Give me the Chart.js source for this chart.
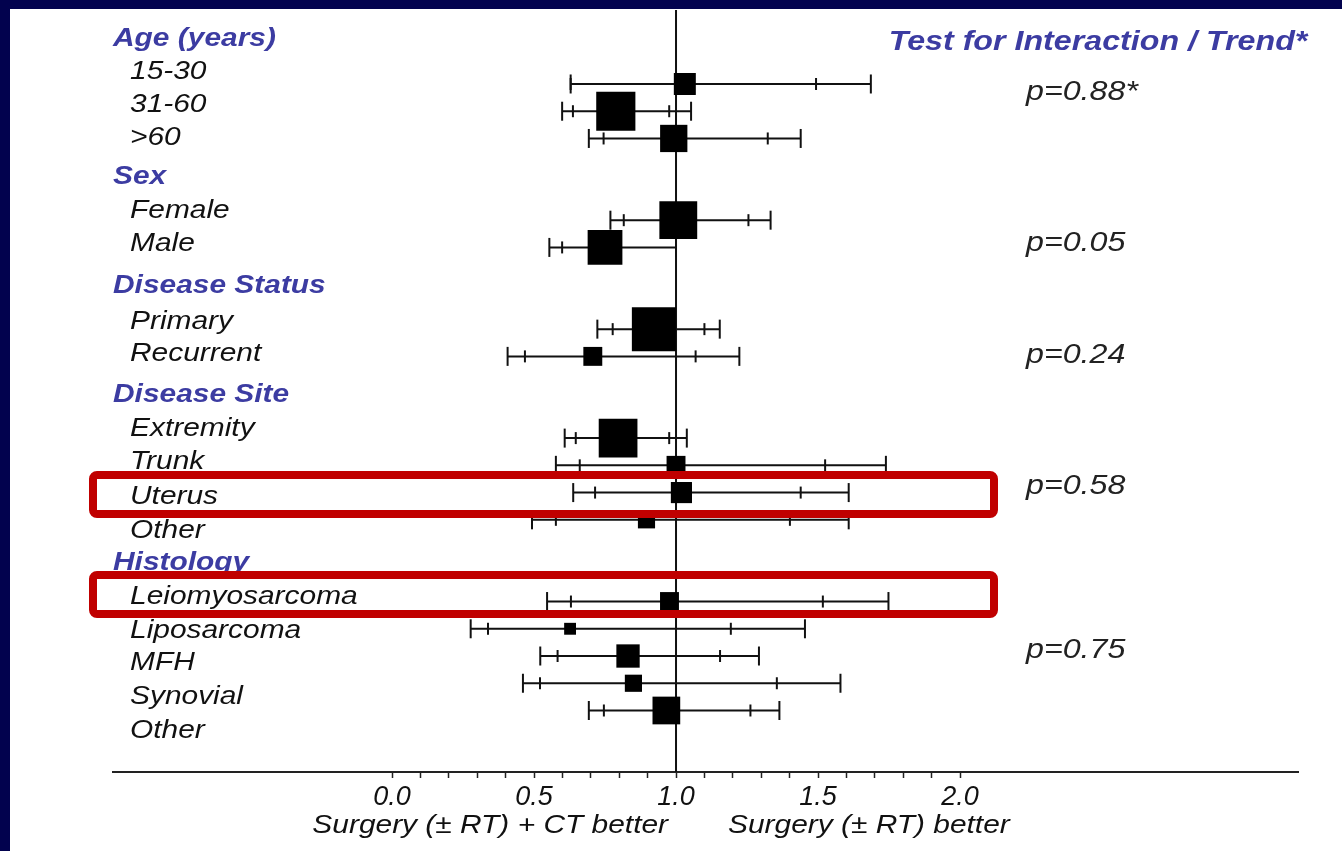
<!DOCTYPE html>
<html>
<head>
<meta charset="utf-8">
<title>Forest plot</title>
<script src="https://cdn.jsdelivr.net/npm/chart.js@4/dist/chart.umd.min.js"></script>
<style>
  html, body { margin: 0; padding: 0; background: #02024e; }
  #wrap { width: 1342px; height: 851px; }
</style>
</head>
<body>
<div id="wrap"><canvas id="forest" width="1342" height="851"></canvas></div>
<script>
const groupNames = ['Age (years)', 'Sex', 'Disease Status', 'Disease Site', 'Histology'];
const groupSizes = [3, 2, 2, 4, 5];
const rowLabels = ['15-30', '31-60', '>60', 'Female', 'Male', 'Primary', 'Recurrent',
    'Extremity', 'Trunk', 'Uterus', 'Other', 'Leiomyosarcoma', 'Liposarcoma', 'MFH', 'Synovial', 'Other'];
const estimate = [1.031, 0.788, 0.992, 1.008, 0.750, 0.922, 0.707, 0.796, 1.000, 1.019, 0.896, 0.977, 0.627, 0.831, 0.850, 0.966];
const lower95 = [0.629, 0.637, 0.745, 0.816, 0.599, 0.777, 0.468, 0.647, 0.661, 0.715, 0.577, 0.630, 0.338, 0.583, 0.521, 0.746];
const upper95 = [1.493, 0.976, 1.323, 1.255, 1.000, 1.100, 1.069, 0.976, 1.525, 1.439, 1.401, 1.517, 1.193, 1.155, 1.355, 1.262];
const lower99 = [0.629, 0.599, 0.693, 0.769, 0.554, 0.723, 0.407, 0.608, 0.577, 0.638, 0.493, 0.546, 0.277, 0.522, 0.461, 0.693];
const upper99 = [1.686, 1.053, 1.439, 1.333, 1.000, 1.154, 1.223, 1.038, 1.739, 1.608, 1.608, 1.748, 1.454, 1.292, 1.579, 1.364];
const weight = [50, 89, 62, 86, 79, 100, 43, 88, 43, 48, 39, 43, 27, 53, 39, 63];
const pValues = ['p=0.88*', 'p=0.05', 'p=0.24', 'p=0.58', 'p=0.75'];
const highlighted = ['Uterus', 'Leiomyosarcoma'];
const xTickValues = [0, 0.1, 0.2, 0.3, 0.4, 0.5, 0.6, 0.7, 0.8, 0.9, 1.0, 1.1, 1.2, 1.3, 1.4, 1.5, 1.6, 1.7, 1.8, 1.9, 2.0];
const leftTitle = 'Surgery (\u00b1 RT) + CT better';
const rightTitle = 'Surgery (\u00b1 RT) better';
const testTitle = 'Test for Interaction / Trend*';

// row slots: one per row, two empty slots between groups
const slots = [];
let s = 0;
groupSizes.forEach((n, g) => {
    if (g > 0) s += 2;
    for (let i = 0; i < n; i++) slots.push(s++);
});

// layout
const FONT = '"Liberation Sans", Arial, sans-serif';
const STRETCH = 1.15;
const labelYs = [39, 72, 105, 138, 177, 211, 244, 286, 322, 354, 395, 429, 462, 497, 531, 563, 597, 631, 663, 697, 731];
const pValueYs = [92, 243, 355, 486, 650];
const X_MIN = -0.9824, X_MAX = 3.190;
const Y_MIN = -2.716, Y_MAX = 25.258;

const ciLine = [];
slots.forEach((y, i) => {
    ciLine.push({ x: lower99[i], y: y }, { x: upper99[i], y: y }, { x: upper99[i], y: null });
});
const outerCaps = [];
const innerTicks = [];
slots.forEach((y, i) => {
    outerCaps.push({ x: lower99[i], y: y }, { x: upper99[i], y: y });
    innerTicks.push({ x: lower95[i], y: y }, { x: upper95[i], y: y });
});
const squares = slots.map((y, i) => ({ x: estimate[i], y: y }));
const squareRadius = weight.map(w => w * 0.44 / Math.SQRT2);

const drawText = (ctx, text, x, y, font, color, align) => {
    ctx.save();
    ctx.translate(x, y);
    ctx.scale(STRETCH, 1);
    ctx.font = font;
    ctx.fillStyle = color;
    ctx.textAlign = align;
    ctx.textBaseline = 'middle';
    ctx.fillText(text, 0, 0);
    ctx.restore();
};

const roundRect = (ctx, x, y, w, h, r) => {
    ctx.beginPath();
    ctx.moveTo(x + r, y);
    ctx.arcTo(x + w, y, x + w, y + h, r);
    ctx.arcTo(x + w, y + h, x, y + h, r);
    ctx.arcTo(x, y + h, x, y, r);
    ctx.arcTo(x, y, x + w, y, r);
    ctx.closePath();
    ctx.stroke();
};

const decor = {
    id: 'decor',
    beforeDraw: (chart) => {
        const ctx = chart.ctx;
        ctx.save();
        ctx.fillStyle = '#02024e';
        ctx.fillRect(0, 0, chart.width, chart.height);
        ctx.fillStyle = '#ffffff';
        ctx.fillRect(10, 9, chart.width - 10, chart.height - 9);
        ctx.restore();
    },
    afterDraw: (chart) => {
        const ctx = chart.ctx;
        const xs = chart.scales.x;
        let line = 0;
        let row = 0;
        const boxes = [];
        groupNames.forEach((name, g) => {
            drawText(ctx, name, 113, labelYs[line++], 'italic bold 26px ' + FONT, '#3c3ca2', 'left');
            for (let i = 0; i < groupSizes[g]; i++) {
                const y = labelYs[line++];
                drawText(ctx, rowLabels[row], 130, y, 'italic 26px ' + FONT, '#111111', 'left');
                if (highlighted.includes(rowLabels[row])) boxes.push(y);
                row++;
            }
        });

        drawText(ctx, testTitle, 1098, 42, 'italic bold 28px ' + FONT, '#3c3ca2', 'center');
        pValues.forEach((p, i) => {
            drawText(ctx, p, 1026, pValueYs[i], 'italic 28px ' + FONT, '#222222', 'left');
        });

        const ref = xs.getPixelForValue(1);
        drawText(ctx, leftTitle, ref - 8, 826, 'italic 26px ' + FONT, '#111111', 'right');
        drawText(ctx, rightTitle, ref + 52, 826, 'italic 26px ' + FONT, '#111111', 'left');

        ctx.save();
        ctx.strokeStyle = '#c00000';
        ctx.lineWidth = 8;
        boxes.forEach(y => {
            roundRect(ctx, 93, y - 22, 901, 39, 4);
        });
        ctx.restore();
    }
};

new Chart(document.getElementById('forest'), {
    type: 'scatter',
    data: {
        datasets: [
            {
                data: squares,
                order: 0,
                pointStyle: 'rect',
                pointRadius: squareRadius,
                backgroundColor: '#000000',
                borderWidth: 0
            },
            {
                data: outerCaps,
                order: 1,
                pointStyle: 'line',
                rotation: 90,
                pointRadius: 9.5,
                borderColor: '#111111',
                borderWidth: 2
            },
            {
                data: innerTicks,
                order: 1,
                pointStyle: 'line',
                rotation: 90,
                pointRadius: 6,
                borderColor: '#111111',
                borderWidth: 2
            },
            {
                data: ciLine,
                order: 2,
                showLine: true,
                spanGaps: false,
                pointRadius: 0,
                borderColor: '#111111',
                borderWidth: 2
            },
            {
                data: [{ x: 1, y: Y_MIN }, { x: 1, y: Y_MAX }],
                order: 3,
                showLine: true,
                pointRadius: 0,
                borderColor: '#111111',
                borderWidth: 2
            }
        ]
    },
    options: {
        responsive: false,
        animation: false,
        devicePixelRatio: 1,
        events: [],
        layout: { autoPadding: false, padding: { left: 113, right: 44, top: 10, bottom: 0 } },
        plugins: {
            legend: { display: false },
            tooltip: { enabled: false }
        },
        scales: {
            x: {
                type: 'linear',
                min: X_MIN,
                max: X_MAX,
                afterBuildTicks: (scale) => {
                    scale.ticks = xTickValues.map(v => ({ value: v }));
                },
                afterFit: (scale) => {
                    scale.height = 79;
                },
                grid: {
                    drawOnChartArea: false,
                    drawTicks: true,
                    tickLength: 6,
                    tickColor: '#222222',
                    tickWidth: 1.5
                },
                border: { display: true, color: '#222222', width: 2 },
                ticks: {
                    autoSkip: false,
                    maxRotation: 0,
                    padding: 3,
                    color: '#111111',
                    font: { family: FONT, size: 27, style: 'italic' },
                    callback: (value) => {
                        const twice = value * 2;
                        return Math.abs(twice - Math.round(twice)) < 1e-6 ? value.toFixed(1) : '';
                    }
                }
            },
            y: {
                type: 'linear',
                display: false,
                reverse: true,
                min: Y_MIN,
                max: Y_MAX
            }
        }
    },
    plugins: [decor]
});
</script>
</body>
</html>
